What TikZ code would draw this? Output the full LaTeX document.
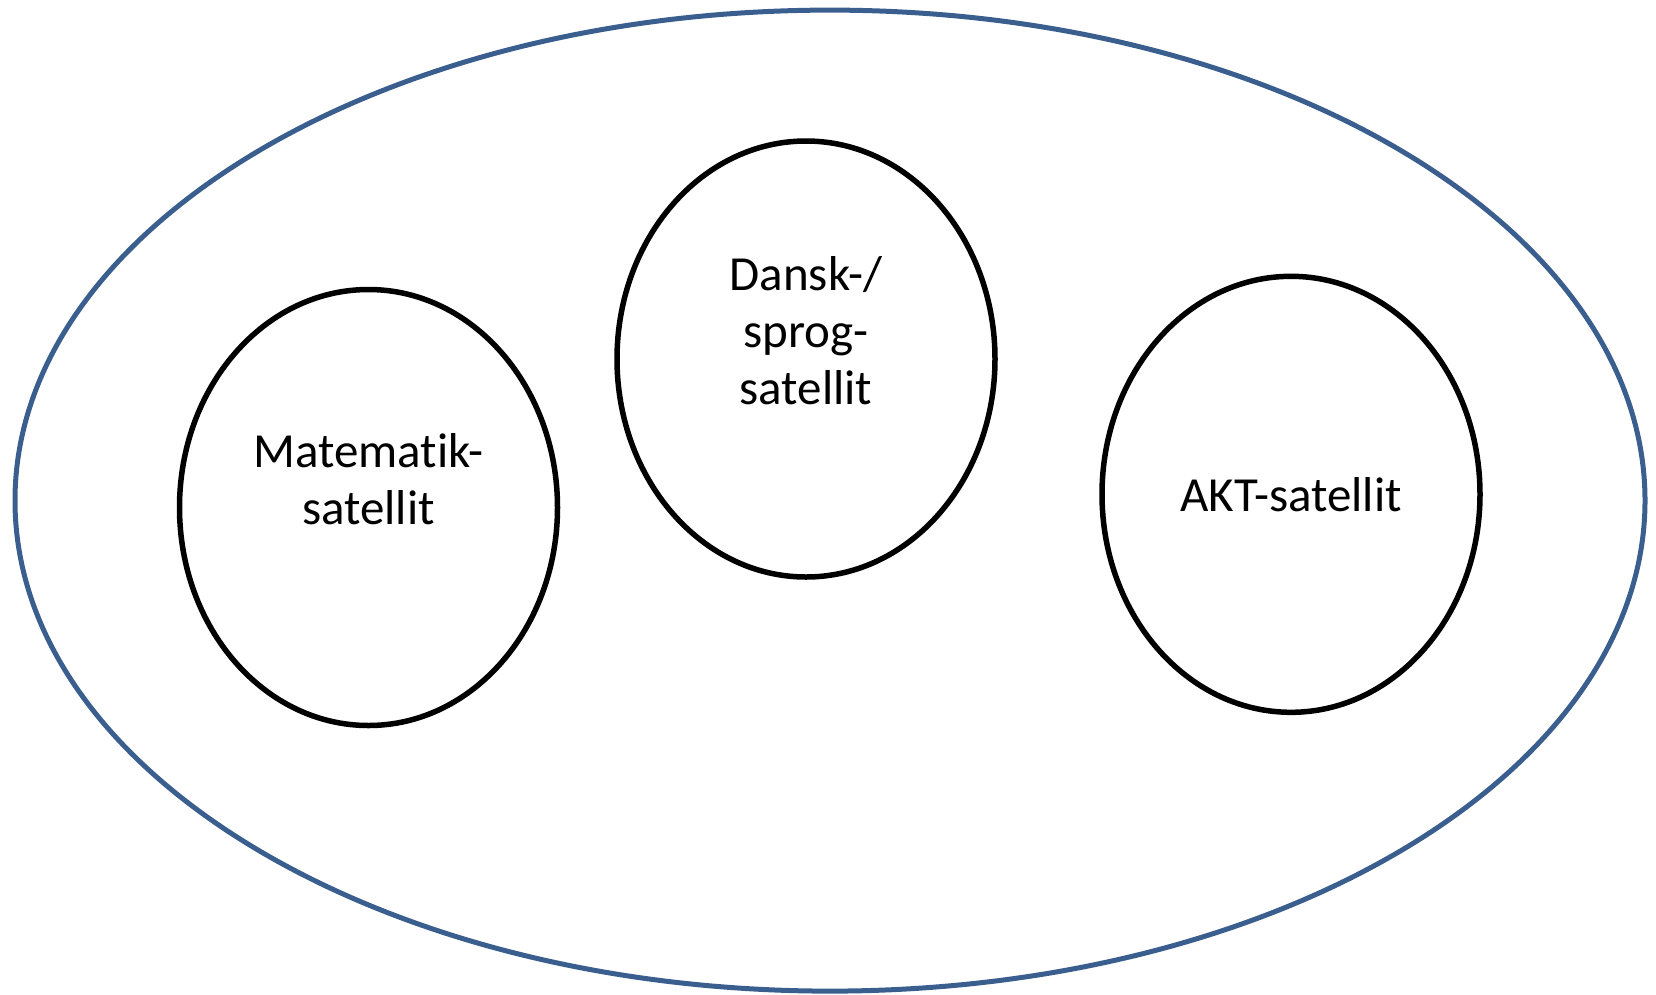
\documentclass[tikz,border=0pt]{standalone}
\usepackage{fontspec}
\setmainfont{Carlito}[Ligatures=NoCommon]
\usetikzlibrary{shapes.geometric}
\definecolor{ringblue}{HTML}{3A5F8E}

\begin{document}
\begin{tikzpicture}[x=1pt,y=-1pt,
 ring/.style={draw=ringblue, line width=5pt, ellipse, inner sep=0pt, outer sep=0pt, minimum width=1630pt, minimum height=981pt},
 sat/.style={draw=black, line width=5.5pt, ellipse, inner sep=0pt, outer sep=0pt, minimum width=378pt, minimum height=436pt},
 lbl/.style={align=center, inner sep=0pt, font=\fontsize{49}{57}\selectfont}]
\useasboundingbox (0,0) rectangle (1656,994);
\node[ring] (base) at (830,500.6) {};
\node[sat] (mat) at (368.5,507.5) {};
\node[sat] (dansk) at (806,359) {};
\node[sat] (akt) at (1291,494.3) {};
\node[lbl] (matlbl) at ([yshift=28pt]mat.center) {Matematik-\\satellit};
\node[lbl] (dansklbl) at ([yshift=28pt]dansk.center) {Dansk-/\\sprog-\\satellit};
\node[lbl] (aktlbl) at (akt.center) {AKT-satellit};
\end{tikzpicture}
\end{document}
